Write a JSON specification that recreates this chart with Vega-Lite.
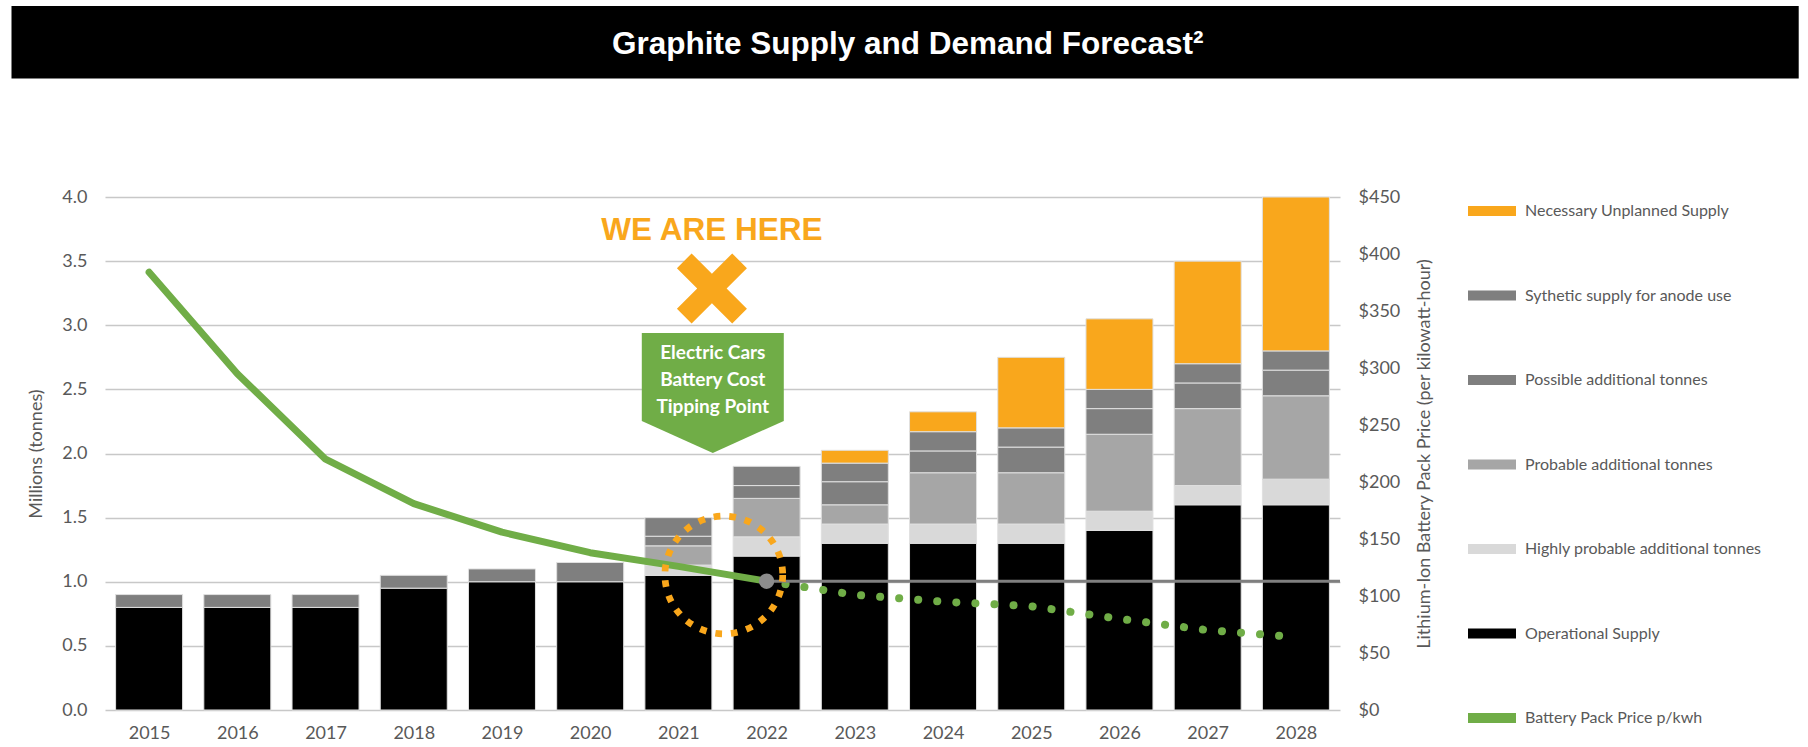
{
  "$schema": "https://vega.github.io/schema/vega-lite/v6.json",
  "width": 1235,
  "height": 513,
  "autosize": {"type": "none"},
  "padding": {"left": 105, "top": 197, "right": 468, "bottom": 37},
  "background": "white",
  "config": {
    "view": {"stroke": null},
    "font": "Lato",
    "axis": {
      "labelFont": "Lato",
      "labelFontSize": 18,
      "labelColor": "#595959",
      "titleFont": "Lato",
      "titleFontSize": 18,
      "titleColor": "#595959",
      "titleFontWeight": "normal",
      "ticks": false,
      "domain": false
    },
    "legend": {
      "orient": "none",
      "legendX": 1363,
      "legendY": -10,
      "padding": 0,
      "symbolType": "M-1,-0.21H1V0.21H-1Z",
      "symbolSize": 2304,
      "symbolStrokeWidth": 0,
      "labelFont": "Lato",
      "labelFontSize": 16,
      "labelColor": "#595959",
      "labelOffset": 9,
      "labelLimit": 400,
      "rowPadding": 52.5
    }
  },
  "datasets": {
    "tiers": [
      {"Series": "Operational Supply", "Tier": 1},
      {"Series": "Highly probable additional tonnes", "Tier": 2},
      {"Series": "Probable additional tonnes", "Tier": 3},
      {"Series": "Possible additional tonnes", "Tier": 4},
      {"Series": "Sythetic supply for anode use", "Tier": 5},
      {"Series": "Necessary Unplanned Supply", "Tier": 6}
    ],
    "supply": [
      {"Year": 2015, "Series": "Operational Supply", "Tonnes": 0.8},
      {"Year": 2015, "Series": "Sythetic supply for anode use", "Tonnes": 0.1},
      {"Year": 2016, "Series": "Operational Supply", "Tonnes": 0.8},
      {"Year": 2016, "Series": "Sythetic supply for anode use", "Tonnes": 0.1},
      {"Year": 2017, "Series": "Operational Supply", "Tonnes": 0.8},
      {"Year": 2017, "Series": "Sythetic supply for anode use", "Tonnes": 0.1},
      {"Year": 2018, "Series": "Operational Supply", "Tonnes": 0.95},
      {"Year": 2018, "Series": "Sythetic supply for anode use", "Tonnes": 0.1},
      {"Year": 2019, "Series": "Operational Supply", "Tonnes": 1.0},
      {"Year": 2019, "Series": "Sythetic supply for anode use", "Tonnes": 0.1},
      {"Year": 2020, "Series": "Operational Supply", "Tonnes": 1.0},
      {"Year": 2020, "Series": "Sythetic supply for anode use", "Tonnes": 0.15},
      {"Year": 2021, "Series": "Operational Supply", "Tonnes": 1.05},
      {"Year": 2021, "Series": "Highly probable additional tonnes", "Tonnes": 0.08},
      {"Year": 2021, "Series": "Probable additional tonnes", "Tonnes": 0.15},
      {"Year": 2021, "Series": "Possible additional tonnes", "Tonnes": 0.075},
      {"Year": 2021, "Series": "Sythetic supply for anode use", "Tonnes": 0.145},
      {"Year": 2022, "Series": "Operational Supply", "Tonnes": 1.2},
      {"Year": 2022, "Series": "Highly probable additional tonnes", "Tonnes": 0.15},
      {"Year": 2022, "Series": "Probable additional tonnes", "Tonnes": 0.3},
      {"Year": 2022, "Series": "Possible additional tonnes", "Tonnes": 0.1},
      {"Year": 2022, "Series": "Sythetic supply for anode use", "Tonnes": 0.15},
      {"Year": 2023, "Series": "Operational Supply", "Tonnes": 1.3},
      {"Year": 2023, "Series": "Highly probable additional tonnes", "Tonnes": 0.15},
      {"Year": 2023, "Series": "Probable additional tonnes", "Tonnes": 0.15},
      {"Year": 2023, "Series": "Possible additional tonnes", "Tonnes": 0.18},
      {"Year": 2023, "Series": "Sythetic supply for anode use", "Tonnes": 0.145},
      {"Year": 2023, "Series": "Necessary Unplanned Supply", "Tonnes": 0.1},
      {"Year": 2024, "Series": "Operational Supply", "Tonnes": 1.3},
      {"Year": 2024, "Series": "Highly probable additional tonnes", "Tonnes": 0.15},
      {"Year": 2024, "Series": "Probable additional tonnes", "Tonnes": 0.4},
      {"Year": 2024, "Series": "Possible additional tonnes", "Tonnes": 0.17},
      {"Year": 2024, "Series": "Sythetic supply for anode use", "Tonnes": 0.15},
      {"Year": 2024, "Series": "Necessary Unplanned Supply", "Tonnes": 0.155},
      {"Year": 2025, "Series": "Operational Supply", "Tonnes": 1.3},
      {"Year": 2025, "Series": "Highly probable additional tonnes", "Tonnes": 0.15},
      {"Year": 2025, "Series": "Probable additional tonnes", "Tonnes": 0.4},
      {"Year": 2025, "Series": "Possible additional tonnes", "Tonnes": 0.2},
      {"Year": 2025, "Series": "Sythetic supply for anode use", "Tonnes": 0.15},
      {"Year": 2025, "Series": "Necessary Unplanned Supply", "Tonnes": 0.55},
      {"Year": 2026, "Series": "Operational Supply", "Tonnes": 1.4},
      {"Year": 2026, "Series": "Highly probable additional tonnes", "Tonnes": 0.15},
      {"Year": 2026, "Series": "Probable additional tonnes", "Tonnes": 0.6},
      {"Year": 2026, "Series": "Possible additional tonnes", "Tonnes": 0.2},
      {"Year": 2026, "Series": "Sythetic supply for anode use", "Tonnes": 0.15},
      {"Year": 2026, "Series": "Necessary Unplanned Supply", "Tonnes": 0.55},
      {"Year": 2027, "Series": "Operational Supply", "Tonnes": 1.6},
      {"Year": 2027, "Series": "Highly probable additional tonnes", "Tonnes": 0.15},
      {"Year": 2027, "Series": "Probable additional tonnes", "Tonnes": 0.6},
      {"Year": 2027, "Series": "Possible additional tonnes", "Tonnes": 0.2},
      {"Year": 2027, "Series": "Sythetic supply for anode use", "Tonnes": 0.15},
      {"Year": 2027, "Series": "Necessary Unplanned Supply", "Tonnes": 0.8},
      {"Year": 2028, "Series": "Operational Supply", "Tonnes": 1.6},
      {"Year": 2028, "Series": "Highly probable additional tonnes", "Tonnes": 0.2},
      {"Year": 2028, "Series": "Probable additional tonnes", "Tonnes": 0.65},
      {"Year": 2028, "Series": "Possible additional tonnes", "Tonnes": 0.2},
      {"Year": 2028, "Series": "Sythetic supply for anode use", "Tonnes": 0.15},
      {"Year": 2028, "Series": "Necessary Unplanned Supply", "Tonnes": 1.2}
    ],
    "price": [
      {"Year": 2015, "Price": 384, "Segment": "actual"},
      {"Year": 2016, "Price": 295, "Segment": "actual"},
      {"Year": 2017, "Price": 220, "Segment": "actual"},
      {"Year": 2018, "Price": 181, "Segment": "actual"},
      {"Year": 2019, "Price": 156, "Segment": "actual"},
      {"Year": 2020, "Price": 138, "Segment": "actual"},
      {"Year": 2021, "Price": 126, "Segment": "actual"},
      {"Year": 2022, "Price": 113, "Segment": "actual"},
      {"Year": 2022, "Price": 113, "Segment": "forecast"},
      {"Year": 2023, "Price": 101, "Segment": "forecast"},
      {"Year": 2024, "Price": 95, "Segment": "forecast"},
      {"Year": 2025, "Price": 91, "Segment": "forecast"},
      {"Year": 2026, "Price": 80, "Segment": "forecast"},
      {"Year": 2027, "Price": 70, "Segment": "forecast"},
      {"Year": 2028, "Price": 64, "Segment": "forecast"}
    ]
  },
  "resolve": {"scale": {"y": "independent"}},
  "layer": [
    {
      "layer": [
        {
          "data": {"name": "supply"},
          "transform": [
            {"lookup": "Series", "from": {"data": {"name": "tiers"}, "key": "Series", "fields": ["Tier"]}}
          ],
          "mark": {"type": "bar", "width": 67, "stroke": "#E0E0E0", "strokeWidth": 1},
          "encoding": {
            "x": {
              "field": "Year",
              "type": "quantitative",
              "title": null,
              "scale": {"domain": [2014.5, 2028.5], "nice": false, "zero": false, "padding": 0},
              "axis": {
                "values": [2015, 2016, 2017, 2018, 2019, 2020, 2021, 2022, 2023, 2024, 2025, 2026, 2027, 2028],
                "format": "d",
                "grid": false,
                "labelPadding": 14,
                "labelFlush": false
              }
            },
            "y": {
              "field": "Tonnes",
              "type": "quantitative",
              "stack": "zero",
              "title": "Millions (tonnes)",
              "scale": {"domain": [0, 4], "nice": false},
              "axis": {
                "values": [0, 0.5, 1, 1.5, 2, 2.5, 3, 3.5, 4],
                "format": ".1f",
                "grid": true,
                "gridColor": "#C8C8C8",
                "gridWidth": 1.5,
                "labelPadding": 18,
                "titlePadding": 16
              }
            },
            "order": {"field": "Tier", "type": "quantitative", "sort": "ascending"},
            "color": {
              "field": "Series",
              "type": "nominal",
              "scale": {
                "domain": [
                  "Necessary Unplanned Supply",
                  "Sythetic supply for anode use",
                  "Possible additional tonnes",
                  "Probable additional tonnes",
                  "Highly probable additional tonnes",
                  "Operational Supply",
                  "Battery Pack Price p/kwh"
                ],
                "range": ["#F9A71C", "#7F7F7F", "#7F7F7F", "#A6A6A6", "#D9D9D9", "#000000", "#70AD47"]
              },
              "legend": {"title": null}
            }
          }
        },
        {
          "data": {"values": [{}]},
          "mark": {"type": "rect", "color": "#000000"},
          "encoding": {
            "x": {"datum": 2013.44},
            "x2": {"datum": 2033.7},
            "y": {"datum": 5.489},
            "y2": {"datum": 4.924}
          }
        },
        {
          "data": {"values": [{}]},
          "mark": {"type": "text", "font": "Liberation Sans", "fontWeight": "bold", "fontSize": 31.5, "color": "#FFFFFF", "align": "center", "baseline": "alphabetic"},
          "encoding": {
            "x": {"datum": 2023.6},
            "y": {"datum": 5.115},
            "text": {"value": "Graphite Supply and Demand Forecast²"}
          }
        },
        {
          "data": {"values": [{}]},
          "mark": {"type": "text", "font": "Liberation Sans", "fontWeight": "bold", "fontSize": 31.5, "color": "#F9A71C", "align": "center", "baseline": "alphabetic"},
          "encoding": {
            "x": {"datum": 2021.38},
            "y": {"datum": 3.665},
            "text": {"value": "WE ARE HERE"}
          }
        },
        {
          "data": {"values": [{}]},
          "mark": {"type": "point", "shape": "M-1,-0.58L-0.58,-1L0,-0.42L0.58,-1L1,-0.58L0.42,0L1,0.58L0.58,1L0,0.42L-0.58,1L-1,0.58L-0.42,0Z", "size": 4900, "filled": true, "color": "#F9A71C", "opacity": 1, "strokeWidth": 0},
          "encoding": {
            "x": {"datum": 2021.38},
            "y": {"datum": 3.287}
          }
        },
        {
          "data": {"values": [{}]},
          "mark": {"type": "point", "shape": "M-1,-0.845L1,-0.845L1,0.394L0,0.845L-1,0.394Z", "size": 20164, "filled": true, "color": "#70AD47", "opacity": 1, "strokeWidth": 0},
          "encoding": {
            "x": {"datum": 2021.39},
            "y": {"datum": 2.472}
          }
        },
        {
          "data": {"values": [{}]},
          "mark": {"type": "text", "font": "Lato", "fontWeight": "bold", "fontSize": 19, "color": "#FFFFFF", "align": "center", "baseline": "middle", "lineHeight": 27},
          "encoding": {
            "x": {"datum": 2021.39},
            "y": {"datum": 2.784},
            "text": {"value": ["Electric Cars", "Battery Cost", "Tipping Point"]}
          }
        }
      ]
    },
    {
      "layer": [
        {
          "data": {"name": "price"},
          "transform": [{"filter": "datum.Segment == 'actual'"}],
          "mark": {"type": "line", "color": "#70AD47", "strokeWidth": 7, "strokeCap": "round", "strokeJoin": "round"},
          "encoding": {
            "x": {"field": "Year", "type": "quantitative", "title": null},
            "y": {
              "field": "Price",
              "type": "quantitative",
              "title": "Lithium-Ion Battery Pack Price (per kilowatt-hour)",
              "scale": {"domain": [0, 450], "nice": false},
              "axis": {
                "orient": "right",
                "values": [0, 50, 100, 150, 200, 250, 300, 350, 400, 450],
                "format": "$,.0f",
                "grid": false,
                "labelPadding": 18,
                "titlePadding": 16,
                "titleAngle": 270,
                "titleBaseline": "top"
              }
            }
          }
        },
        {
          "data": {"name": "price"},
          "transform": [{"filter": "datum.Segment == 'forecast'"}],
          "mark": {"type": "line", "color": "#70AD47", "strokeWidth": 8, "strokeCap": "round", "strokeDash": [0.1, 19]},
          "encoding": {
            "x": {"field": "Year", "type": "quantitative", "title": null},
            "y": {"field": "Price", "type": "quantitative"}
          }
        },
        {
          "data": {"values": [{}]},
          "mark": {"type": "rule", "color": "#7F7F7F", "strokeWidth": 3},
          "encoding": {
            "x": {"datum": 2022},
            "x2": {"datum": 2028.5},
            "y": {"datum": 113}
          }
        },
        {
          "data": {"values": [{}]},
          "mark": {"type": "point", "shape": "circle", "size": 237, "filled": true, "color": "#8C8C8C", "opacity": 1},
          "encoding": {
            "x": {"datum": 2022},
            "y": {"datum": 113}
          }
        }
      ]
    },
    {
      "data": {"values": [{}]},
      "mark": {"type": "point", "shape": "circle", "filled": false, "stroke": "#F9A71C", "strokeWidth": 6.7, "strokeDash": [6.7, 9], "size": 13877, "opacity": 1},
      "encoding": {
        "x": {"datum": 2021.515},
        "y": {"datum": 1.053, "scale": {"domain": [0, 4], "nice": false}, "axis": null}
      }
    }
  ]
}
